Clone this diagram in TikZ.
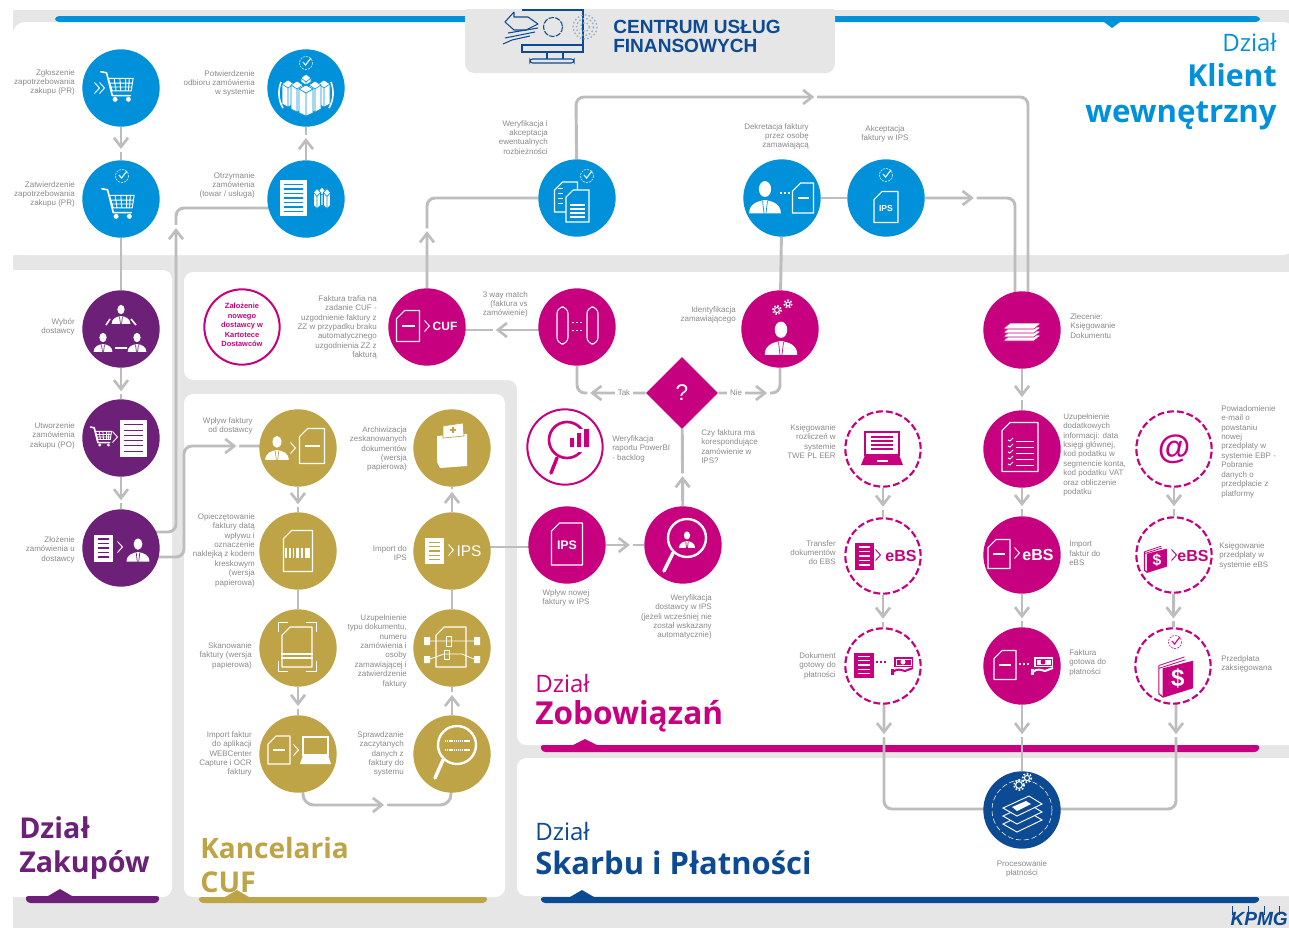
\documentclass[tikz,border=0pt]{standalone}
\usepackage{fontspec}
\setmainfont{Liberation Sans}
\newfontfamily\headfont{Open Sans}
\usetikzlibrary{shapes.geometric,decorations.markings,calc}
\definecolor{cblue}{HTML}{0091DA}
\definecolor{cpurple}{HTML}{6D2077}
\definecolor{cmag}{HTML}{C6007E}
\definecolor{cgold}{HTML}{BEA447}
\definecolor{cnavy}{HTML}{0C4A94}
\definecolor{cline}{HTML}{BDBDBD}
\definecolor{cband}{HTML}{E6E6E6}
\definecolor{ctxt}{HTML}{8A8A8A}
\pgfdeclarelayer{under}
\pgfsetlayers{under,main}
\newcommand\chevmark{\fill[white] (0,-2.6) rectangle (5,2.6); \draw[cline,line width=2pt,rounded corners=0pt] (-9,-7) -- (0,0) -- (-9,7);}
\tikzset{
 x=.75pt,y=-.75pt,
 circ/.style={circle,inner sep=0pt,minimum size=58pt},
 solidc/.style={circ,fill=#1},
 ringc/.style={circ,fill=white,draw=cmag,line width=1.5pt,minimum size=56.5pt},
 dashc/.style={circ,fill=white,draw=cmag,line width=1.6pt,dash pattern=on 5.2pt off 2.2pt,minimum size=56.5pt},
 conn/.style={draw=cline,line width=2.2pt},
 flow/.style={postaction={decorate,decoration={markings,mark=at position #1 with {\chevmark}}}},
 lab/.style={font=\fontsize{6}{7.1}\selectfont,text=ctxt,inner sep=0pt},
 labR/.style={lab,anchor=north east,align=right},
 labL/.style={lab,anchor=north west,align=left},
 labC/.style={lab,anchor=north,align=center},
 bigb/.style={font=\headfont\bfseries\fontsize{#1}{#1}\selectfont,inner sep=0pt},
 bigr/.style={font=\headfont\fontsize{#1}{#1}\selectfont,inner sep=0pt},
 itext/.style={font=\bfseries\fontsize{#1}{#1}\selectfont,inner sep=0pt},
}
% --- icon helpers (positions in px, centre first) ---
\newcommand\icdocO[4]{\begin{scope}[shift={(#1)}]
 \draw[#4,line width=.8pt,line join=round] ({-#2/2},{-#3/2+8}) -- ({-#2/2+8},{-#3/2}) -- ({#2/2},{-#3/2}) -- ({#2/2},{#3/2}) -- ({-#2/2},{#3/2}) -- cycle;
\end{scope}}
\newcommand\icdocM[4]{\icdocO{#1}{#2}{#3}{#4}\begin{scope}[shift={(#1)}]\draw[#4,line width=.8pt] ({-#2/2+5},0) -- ({#2/2-5},0);\end{scope}}
\newcommand\icdocF[6]{\begin{scope}[shift={(#1)}]
 \fill[#4] ({-#2/2},{-#3/2}) rectangle ({#2/2},{#3/2});
 \foreach \i in {1,...,#6}{\draw[#5,line width=.8pt] ({-#2/2+4},{-#3/2+#3*\i/(#6+1)}) -- ({#2/2-4},{-#3/2+#3*\i/(#6+1)});}
\end{scope}}
\newcommand\icchev[2]{\begin{scope}[shift={(#1)}]\draw[#2,line width=.7pt] (-2.5,-5.5) -- (2.5,0) -- (-2.5,5.5);\end{scope}}
\newcommand\icbadge[2]{\begin{scope}[shift={(#1)}]
 \draw[#2,line width=.4pt,dash pattern=on 1.5pt off .8pt] (0,0) circle (6.5);
 \draw[#2,line width=.8pt] (-3,-1) -- (-.5,2) -- (5,-5);
\end{scope}}
\newcommand\icperson[4]{\begin{scope}[shift={(#1)},scale=#2]
 \fill[#3] (0,-9) ellipse [x radius=5,y radius=6.5];
 \fill[#3] (-13,11) .. controls (-13,3) and (-6,1) .. (0,0) .. controls (6,1) and (13,3) .. (13,11) -- cycle;
 \draw[#4,line width=.5pt] (-2,1) -- (-.8,11) (2,1) -- (.8,11);
\end{scope}}
\newcommand\iccart[3]{\begin{scope}[shift={(#1)},scale=#2]
 \draw[#3,line width=1.2pt,line join=round,line cap=round] (-17,-16) -- (-11,-15) -- (-5,9) -- (14,9);
 \draw[#3,line width=.7pt] (-9,-9) -- (17,-9) -- (15,4) -- (-5,4) -- cycle
   (-3,-9) -- (-1,4) (3,-9) -- (4,4) (9,-9) -- (9,4) (13,-9) -- (12,4) (-8,-4) -- (16,-4) (-6,0) -- (15.5,0);
 \fill[#3] (-2,13) circle (2.6) (12,13) circle (2.6);
\end{scope}}
\newcommand\icbox[5]{\begin{scope}[shift={(#1)}]
 \fill[#4,draw=#5,line width=.5pt] ({-#2/2},{-#3/2}) -- (0,{-#3/2-4}) -- ({#2/2},{-#3/2}) -- ({#2/2},{#3/2}) -- (0,{#3/2+3}) -- ({-#2/2},{#3/2}) -- cycle;
 \draw[#5,line width=.5pt] ({-#2/2},{-#3/2}) -- (0,{-#3/2+4}) -- ({#2/2},{-#3/2}) (0,{-#3/2+4}) -- (0,{#3/2+3});
\end{scope}}
\newcommand\icgear[3]{\begin{scope}[shift={(#1)}]
 \draw[#3,line width=.8pt] (0,0) circle (#2);
 \draw[#3,line width=1.2pt,dash pattern=on 1.2pt off 1.3pt] (0,0) circle ({#2+1.8});
\end{scope}}
\newcommand\icpay[3]{\begin{scope}[shift={(#1)}]
 \fill[#2] (-9,-9) rectangle (10,1);
 \fill[#3] (0,-4) circle (2.5);
 \draw[#3,line width=.4pt] (-7,-7) rectangle (8,-1);
 \draw[#2,line width=1.5pt,line join=round] (-10,6) .. controls (-6,2) and (-2,4) .. (2,5) -- (10,2);
 \fill[#2] (-12,3) rectangle (-9,9);
\end{scope}}
\newcommand\icwallet[4]{\begin{scope}[shift={(#1)},scale=#2]
 \draw[#3,line width=.6pt] (-17,-10) -- (10,-19) (-17,-7) -- (11,-16);
 \draw[#3,line width=.9pt] (-17,-10) -- (-17,20) -- (-13,23);
 \fill[#3] (-13,-7) -- (19,-15) -- (19,14) -- (-13,24) -- cycle;
 \node[transform shape,text=#4,font=\bfseries\fontsize{19}{19}\selectfont,inner sep=0pt] at (3,4) {\$};
\end{scope}}
\newcommand\icdots[2]{\begin{scope}[shift={(#1)}]\draw[#2,line width=.8pt,dash pattern=on 1.5pt off 1.5pt] (-6,0) -- (6,0);\end{scope}}
\newcommand\iclaptop[2]{\begin{scope}[shift={(#1)}]
 \draw[#2,line width=.8pt] (-17,-13) rectangle (17,10);
 \fill[#2] (-17,10) -- (17,10) -- (21,20) -- (-21,20) -- cycle;
\end{scope}}
\begin{document}
\begin{tikzpicture}
\useasboundingbox (0,0) rectangle (1289,928);
\begin{pgfonlayer}{under}
 \fill[white] (0,0) rectangle (1289,928);
 \fill[cband] (13,10) rectangle (1289,928);
 % panels
 \fill[white,rounded corners=9pt] (13,22) -- (1295,22) -- (1295,255) -- (13,255) -- cycle;
 \fill[white] (13,30) rectangle (30,255);
 \fill[white,rounded corners=7pt] (5,270) -- (172,270) -- (172,897) -- (5,897) -- cycle;
 \fill[white] (13,270) rectangle (30,897);
 \fill[cband] (0,260) rectangle (13,928);
 \fill[white] (0,0) rectangle (13,928);
 \fill[white,rounded corners=7pt] (184,272) -- (1300,272) -- (1300,745) -- (517,745) -- (517,380) -- (184,380) -- cycle;
 \fill[white,rounded corners=7pt] (184,394) -- (505,394) -- (505,897) -- (184,897) -- cycle;
 \fill[white,rounded corners=7pt] (517,758) -- (1300,758) -- (1300,896) -- (517,896) -- cycle;
 % coloured bars
 \fill[cblue,rounded corners=3pt] (55,22) -- (55,16) -- (1260,16) -- (1260,22) -- cycle;
 \fill[cblue] (1104,22) -- (1120,22) -- (1112,28) -- cycle;
 \fill[cpurple,rounded corners=2.5pt] (25,896) -- (160,896) -- (158,903) -- (27,903) -- cycle;
 \fill[cpurple] (48,896) -- (72,896) -- (60,889) -- cycle;
 \fill[cgold,rounded corners=2.5pt] (198,897) -- (488,897) -- (486,903) -- (200,903) -- cycle;
 \fill[cgold] (225,897) -- (249,897) -- (237,890) -- cycle;
 \fill[cmag,rounded corners=2.5pt] (540,745) -- (1260,745) -- (1258,752) -- (542,752) -- cycle;
 \fill[cmag] (573,745) -- (597,745) -- (585,739) -- cycle;
 \fill[cnavy,rounded corners=2.5pt] (540,897) -- (1260,897) -- (1258,903) -- (542,903) -- cycle;
 \fill[cnavy] (570,897) -- (594,897) -- (582,890) -- cycle;
 % title box
 \fill[white] (465,0) rectangle (835,10);
 \fill[cband,rounded corners=7pt] (465,4) -- (835,4) -- (835,73) -- (465,73) -- cycle;
 \fill[white] (465,0) rectangle (835,9);
\end{pgfonlayer}

% process nodes
\node[solidc=cblue] (b1) at (121,88) {};
\node[solidc=cblue] (b2) at (306,88) {};
\node[solidc=cblue] (b3) at (121,199) {};
\node[solidc=cblue] (b4) at (306,199) {};
\node[solidc=cblue] (b5) at (577,198) {};
\node[solidc=cblue] (b6) at (782,198) {};
\node[solidc=cblue] (b7) at (886,198) {};
\node[solidc=cpurple] (p1) at (121,329) {};
\node[solidc=cpurple] (p2) at (121,438) {};
\node[solidc=cpurple] (p3) at (121,548) {};
\node[ringc] (r1) at (242,327) {};
\node[solidc=cmag] (m1) at (427,327) {};
\node[solidc=cmag] (m2) at (577,327) {};
\node[solidc=cmag] (m3) at (780,329) {};
\node[solidc=cmag] (m4) at (1022,330) {};
\node[solidc=cmag] (m5) at (1022,449) {};
\node[solidc=cmag] (m6) at (1022,555) {};
\node[solidc=cmag] (m7) at (1022,666) {};
\node[solidc=cmag] (m8) at (567,545) {};
\node[solidc=cmag] (m9) at (683,545) {};
\node[ringc] (r2) at (565,447) {};
\node[dashc] (d1) at (883,449) {};
\node[dashc] (d2) at (883,556) {};
\node[dashc] (d3) at (883,666) {};
\node[dashc] (d4) at (1174,449) {};
\node[dashc] (d5) at (1174,555) {};
\node[dashc] (d6) at (1173,666) {};
\node[solidc=cgold] (g1) at (298,448) {};
\node[solidc=cgold] (g2) at (298,551) {};
\node[solidc=cgold] (g3) at (298,648) {};
\node[solidc=cgold] (g4) at (298,754) {};
\node[solidc=cgold] (g5) at (452,448) {};
\node[solidc=cgold] (g6) at (452,551) {};
\node[solidc=cgold] (g7) at (452,648) {};
\node[solidc=cgold] (g8) at (452,754) {};
\node[solidc=cnavy] (n1) at (1022,810) {};
\node[diamond,aspect=1,fill=cmag,inner sep=0pt,minimum size=54pt,text=white,font=\fontsize{17}{17}\selectfont] (q) at (682,393) {?};

% waypoints
\coordinate (k1) at (176,532);
\coordinate (k2) at (176,208);
\coordinate (k3) at (184,557);
\coordinate (k4) at (184,446);
\coordinate (k5) at (576,97);
\coordinate (k6) at (1028,97);
\coordinate (k7) at (1015,198);
\coordinate (k8) at (303,805);
\coordinate (k9) at (451,805);
\coordinate (k10) at (884,809);
\coordinate (k11) at (1176,809);
\coordinate (k12) at (500,330);
\coordinate (k13) at (500,547);

\begin{pgfonlayer}{under}
 \draw[conn,flow=.6] (b1) -- (b3);
 \draw[conn] (b3) -- (p1);
 \draw[conn,flow=.68] (p1) -- (p2);
 \draw[conn,flow=.66] (p2) -- (p3);
 \draw[conn,flow=.6] (b4) -- (b2);
 \draw[conn,rounded corners=6pt,flow=265pt] (p3 |- k1) -- (k1) -- (k2) -- (k2 -| b4);
 \draw[conn,rounded corners=6pt,flow=163pt] (p3 |- k3) -- (k3) -- (k4) -- (k4 -| g1);
 \draw[conn,rounded corners=6pt,flow=41pt] (m1) |- (b5);
 \draw[conn,flow=.527] (m2 |- k12) -- (m1 |- k12);
 \draw[conn,rounded corners=6pt,flow=221pt] (b5) -- (k5) -- (k6) -- (k6 |- m4);
 \draw[conn] (b6) -- (b7);
 \draw[conn] (b6) -- (m3);
 \draw[conn,rounded corners=6pt,flow=35pt] (b7) -- (k7) -- (k7 |- m4);
 \draw[conn,flow=.63] (m4) -- (m5);
 \draw[conn,flow=.57] (m5) -- (m6);
 \draw[conn,flow=.67] (m6) -- (m7);
 \draw[conn,flow=.41] (m7) -- (n1);
 \draw[conn,rounded corners=6pt,flow=40pt] (q.west) -| (m2);
 \draw[conn,rounded corners=6pt,flow=35pt] (q.east) -| (m3);
 \draw[conn,flow=.36] (m9) -- (q);
 \draw[conn] (g6 |- k13) -- (m8 |- k13);
 \draw[conn,flow=.57] (m8) -- (m9);
 \draw[conn,flow=.6] (g1) -- (g2);
 \draw[conn] (g2) -- (g3);
 \draw[conn,flow=.6] (g3) -- (g4);
 \draw[conn,rounded corners=8pt,flow=94pt] (k8 |- g4) -- (k8) -- (k9) -- (k9 |- g8);
 \draw[conn,flow=.64] (g8) -- (g7);
 \draw[conn] (g7) -- (g6);
 \draw[conn,flow=.72] (g6) -- (g5);
 \draw[conn,flow=.57] (d1) -- (d2);
 \draw[conn,flow=.67] (d2) -- (d3);
 \draw[conn,rounded corners=6pt,flow=49.5pt] (k10 |- d3) -- (k10) -- (k10 -| n1);
 \draw[conn,flow=.57] (d4) -- (d5);
 \draw[conn,flow=.67] (d5) -- (d6);
 \draw[conn,rounded corners=6pt,flow=49.5pt] (k11 |- d6) -- (k11) -- (k11 -| n1);
\end{pgfonlayer}
\node[lab,fill=white,inner sep=2pt,font=\fontsize{6}{7}\selectfont] (tak) at (624,393) {Tak};
\node[lab,fill=white,inner sep=2pt,font=\fontsize{6}{7}\selectfont] (nie) at (736,393) {Nie};

% === icons: blue ===
\icchev{97,88}{white}\icchev{102,88}{white}
\iccart{117,87}{.95}{white}
\icbadge{306,63}{white}
\icbox{288,94}{12}{20}{white}{cblue}
\icbox{324,94}{12}{20}{white}{cblue}
\icbox{306,80}{10}{4}{white}{cblue}
\icbox{297,97}{12}{24}{white}{cblue}
\icbox{315,97}{12}{24}{white}{cblue}
\icbox{306,101}{14}{24}{white}{cblue}
\draw[white,line width=1.2pt] (283,108) .. controls (278,100) and (278,90) .. (281,82);
\draw[white,line width=1.2pt] (329,108) .. controls (334,100) and (334,90) .. (331,82);
\icbadge{122,176}{white}
\iccart{118,204}{.95}{white}
\icdocF{293,198}{27}{36}{white}{cblue}{7}
\icbox{322,197}{7}{12}{white}{cblue}
\icbox{317,199}{7}{13}{white}{cblue}
\icbox{327,199}{7}{13}{white}{cblue}
\icdocO{566,197}{23}{30}{white}
\foreach \y in {188,193,198,203}{\draw[white,line width=.7pt] (558,\y) -- (563,\y);}
\fill[cblue,draw=white,line width=.8pt] (566,197) -- (573,190) -- (589,190) -- (589,222) -- (566,222) -- cycle;
\foreach \y in {205,209,213,217}{\draw[white,line width=.8pt] (570,\y) -- (585,\y);}
\icbadge{587,176}{white}
\icperson{765,200}{1.22}{white}{cblue}
\icdots{786,193}{white}
\icdocM{803,198}{21}{30}{white}
\icdocO{886,207}{24}{31}{white}
\node[itext=6.5,text=white] (tips1) at (886,209) {IPS};
\icbadge{886,175}{white}
% purple
\icperson{121,316}{.72}{white}{cpurple}
\icperson{103,344}{.72}{white}{cpurple}
\icperson{137,344}{.72}{white}{cpurple}
\draw[white,line width=1.2pt] (106,325) -- (110,319) (131,319) -- (136,325) (115,348) -- (127,348);
\iccart{101,437}{.62}{white}
\icchev{115,437}{white}
\icdocF{133,438}{27}{37}{white}{cpurple}{6}
\icdocF{103,548}{19}{27}{white}{cpurple}{5}
\icchev{120,547}{white}
\icperson{138,552}{.88}{white}{cpurple}
% magenta
\icdocM{408,326}{23}{31}{white}
\icchev{427,326}{white}
\node[itext=9,text=white] (tcuf) at (445,326) {CUF};
\draw[white,line width=.8pt,rounded corners=5pt] (557,307) rectangle (568,344);
\draw[white,line width=.8pt,rounded corners=5pt] (587,307) rectangle (598,344);
\draw[white,line width=.7pt,dash pattern=on 1.5pt off 1.5pt] (572,322) -- (584,322) (572,330) -- (584,330);
\icgear{777,310}{2.5}{white}
\icgear{788,304}{2}{white}
\icperson{781,341}{1.25}{white}{cmag}
\foreach \d in {12,8,4,0}{\fill[white,draw=cmag,line width=.4pt] (1010,{323+\d}) -- (1041,{323+\d}) -- (1034,{329+\d}) -- (1003,{329+\d}) -- cycle;}
\icdocO{1020,447}{36}{49}{white}
\foreach \y in {441,447,453,459,465}{\draw[white,line width=.7pt] (1008,{\y-1}) -- (1010,\y) -- (1013,{\y-3}); \draw[white,line width=.7pt] (1016,\y) -- (1034,\y);}
\icdocM{999,554}{22}{29}{white}
\icchev{1017,553}{white}
\node[itext=12,text=white] (tebs1) at (1038,555) {eBS};
\icdocM{1005,665}{22}{29}{white}
\icdots{1025,664}{white}
\icpay{1043,666}{white}{cmag}
\icdocO{567,544}{31}{42}{white}
\node[itext=9.3,text=white] (tips2) at (567,545) {IPS};
\draw[white,line width=1.8pt] (687,538) circle (19);
\draw[white,line width=2.6pt,line cap=round] (673,553) -- (664,571);
\icperson{687,541}{.62}{white}{cmag}
% outline magnifier
\draw[cmag,line width=2pt] (567,440) circle (18);
\fill[white] (568,429) rectangle (592,452);
\fill[cmag] (570,438) rectangle (574,447) (577,433) rectangle (581,447) (584,429) rectangle (589,447);
\draw[cmag,line width=2.6pt,line cap=round] (557,458) -- (551,473);
% dashed icons
\iclaptop{882,445}{cmag}
\foreach \y in {437,441,445,449}{\draw[cmag,line width=1.1pt] (871,\y) -- (893,\y);}
\fill[white] (877,460) rectangle (888,462);
\icdocF{864,556}{19}{27}{cmag}{white}{5}
\icchev{878,555}{cmag}
\node[itext=12,text=cmag] (tebs2) at (901,556) {eBS};
\icdocF{864,665}{20}{25}{cmag}{white}{5}
\icdots{882,662}{cmag}
\icpay{903,666}{cmag}{white}
\node[font=\bfseries\fontsize{25}{25}\selectfont,text=cmag,inner sep=0pt] (tat) at (1174,449) {@};
\icwallet{1155,558}{.62}{cmag}{white}
\icchev{1174,555}{cmag}
\node[itext=12,text=cmag] (tebs3) at (1193,556) {eBS};
\icwallet{1175,675}{.95}{cmag}{white}
\icbadge{1175,642}{cmag}
% gold
\icperson{277,450}{.9}{white}{cgold}
\icchev{293,448}{white}
\icdocM{312,446}{25}{35}{white}
\icdocO{298,551}{29}{41}{white}
\fill[white] (285,548) rectangle (310,558);
\foreach \x in {288,292,295,300,304}{\draw[cgold,line width=.9pt] (\x,548) -- (\x,558);}
\icdocO{297,647}{30}{40}{white}
\draw[white,line width=.8pt] (281,654) -- (313,654) (281,658) -- (313,658);
\draw[white,line width=.6pt] (278,632) -- (278,622) -- (288,622) (306,622) -- (316,622) -- (316,632) (278,661) -- (278,671) -- (288,671) (306,671) -- (316,671) -- (316,661);
\icdocM{279,750}{22}{28}{white}
\icchev{296,750}{white}
\draw[white,line width=.8pt] (303,737) rectangle (328,755);
\fill[white] (303,755) -- (328,755) -- (331,764) -- (300,764) -- cycle;
\fill[white] (437,436) -- (467,434) -- (467,466) -- (440,468) -- (437,462) -- cycle;
\fill[white,draw=cgold,line width=.5pt] (443,426) -- (463,423) -- (464,436) -- (443,438) -- cycle;
\draw[cgold,line width=.9pt] (453,427) -- (453,433) (450,430) -- (456,430);
\icdocF{434,551}{19}{26}{white}{cgold}{5}
\icchev{451,550}{white}
\node[itext=11.6,text=white,font=\fontsize{11.6}{11.6}\selectfont] (tips3) at (469,551) {IPS};
\icdocO{451,647}{30}{40}{white}
\draw[white,line width=.6pt] (444,641) -- (462,641) (444,654) -- (462,654) (430,641) -- (444,641) (462,641) -- (474,641) (430,659) -- (444,654) (462,654) -- (474,659);
\draw[white,line width=.6pt] (446,636) rectangle (451,646) (444,650) rectangle (449,659);
\fill[white] (424,637) rectangle (430,645) (424,656) rectangle (430,663) (474,637) rectangle (480,645) (474,656) rectangle (480,663);
\draw[white,line width=1.8pt] (457,745) circle (19);
\draw[white,line width=2.6pt,line cap=round] (443,760) -- (435,778);
\draw[white,line width=1.2pt,dash pattern=on 1pt off .6pt] (445,741) -- (470,741) (445,750) -- (470,750);
% navy
\icgear{1019,785}{3.4}{white}
\icgear{1027,778}{2.6}{white}
\draw[white,line width=.4pt,dash pattern=on 4pt off 2pt] (1022,810) circle (30);
\foreach \d in {16,8,0}{\fill[cnavy,draw=white,line width=.7pt] (1003,{808+\d}) -- (1029,{796+\d}) -- (1042,{804+\d}) -- (1017,{816+\d}) -- cycle;}
\fill[white] (1012,807) -- (1026,801) -- (1031,804) -- (1017,811) -- cycle;
% title art
\begin{scope}[cnavy,line width=.8pt]
 \draw (522,10) -- (583,10) -- (583,45);
 \draw (522,45) rectangle (583,52);
 \draw (547,52) -- (547,59) (563,52) -- (563,59);
 \draw[rounded corners=2pt] (530,59) rectangle (574,63);
 \draw[line join=round] (505,22) -- (514,12) -- (514,17) -- (528,17) -- (538,24) -- (526,30) -- (514,30) -- cycle;
 \draw (508,33) -- (538,28) (505,38) -- (535,32) (503,44) -- (512,40) -- (530,36);
 \draw[dash pattern=on 4pt off 1pt] (553,27) circle (9.5);
 \draw[cnavy!45,line width=1pt,dash pattern=on 1.2pt off 1.6pt] (585,27) circle (12) (585,27) circle (8.5) (585,27) circle (4.5);
\end{scope}
\node[font=\bfseries\fontsize{14.3}{14.6}\selectfont,text=cnavy,align=left,inner sep=0pt,anchor=west] (title) at (613,36.5) {CENTRUM USŁUG\\FINANSOWYCH};

% KPMG
\draw[cnavy,line width=.4pt] (1232,906) -- (1232,915) (1248,906) -- (1248,915) (1264,906) -- (1264,915) (1279,906) -- (1279,915);
\node[anchor=base east,font=\bfseries\itshape\fontsize{14.3}{14.3}\selectfont,text=cnavy,inner sep=0pt] (kpmg) at (1288,925) {KPMG};

% headings
\node[bigr=18,anchor=base east,text=cblue] (hk1) at (1277,51) {Dział};
\node[bigb=22.7,anchor=base east,text=cblue] (hk2) at (1277,86) {Klient};
\node[bigb=23.4,anchor=base east,text=cblue] (hk3) at (1277,122) {wewnętrzny};
\node[bigr=18,anchor=base west,text=cmag] (hz1) at (535,692) {Dział};
\node[bigb=23.7,anchor=base west,text=cmag] (hz2) at (535,724) {Zobowiązań};
\node[bigr=18,anchor=base west,text=cnavy] (hs1) at (535,840) {Dział};
\node[bigb=23.2,anchor=base west,text=cnavy] (hs2) at (535,874) {Skarbu i Płatności};
\node[bigb=21.5,anchor=base west,text=cpurple] (hp1) at (19,838) {Dział};
\node[bigb=21.5,anchor=base west,text=cpurple] (hp2) at (19,872) {Zakupów};
\node[bigb=21,anchor=base west,text=cgold] (hc1) at (200,858) {Kancelaria};
\node[bigb=21.5,anchor=base west,text=cgold] (hc2) at (200,892) {CUF};

% labels
\node[labR] (t1) at (75,69) {Zgłoszenie\\zapotrzebowania\\zakupu (PR)};
\node[labR] (t2) at (75,181) {Zatwierdzenie\\zapotrzebowania\\zakupu (PR)};
\node[labR] (t3) at (255,70) {Potwierdzenie\\odbioru zamówienia\\w systemie};
\node[labR] (t4) at (255,172) {Otrzymanie\\zamówienia\\(towar / usługa)};
\node[labR] (t5) at (548,120) {Weryfikacja i\\akceptacja\\ewentualnych\\rozbieżności};
\node[labR] (t6) at (809,123) {Dekretacja faktury\\przez osobę\\zamawiającą};
\node[labC] (t7) at (885,125) {Akceptacja\\faktury w IPS};
\node[labR] (t8) at (75,318) {Wybór\\dostawcy};
\node[labR] (t9) at (75,422) {Utworzenie\\zamówienia\\zakupu (PO)};
\node[labR] (t10) at (75,536) {Złożenie\\zamówienia u\\dostawcy};
\node[labC,text=cmag,font=\bfseries\fontsize{5.6}{7.1}\selectfont] (t11) at (242,303) {Założenie\\nowego\\dostawcy w\\Kartotece\\Dostawców};
\node[labR] (t12) at (377,295) {Faktura trafia na\\zadanie CUF -\\uzgodnienie faktury z\\ZZ w przypadku braku\\automatycznego\\uzgodnienia ZZ z\\fakturą};
\node[labR] (t13) at (528,291) {3 way match\\(faktura vs\\zamówienie)};
\node[labR] (t14) at (736,306) {Identyfikacja\\zamawiającego};
\node[labR] (t15) at (253,417) {Wpływ faktury\\od dostawcy};
\node[labR] (t16) at (407,426) {Archiwizacja\\zeskanowanych\\dokumentów\\(wersja\\papierowa)};
\node[labR] (t17) at (255,513) {Opieczętowanie\\faktury datą\\wpływu i\\oznaczenie\\naklejką z kodem\\kreskowym\\(wersja\\papierowa)};
\node[labR] (t18) at (407,545) {Import do\\IPS};
\node[labR] (t19) at (252,642) {Skanowanie\\faktury (wersja\\papierowa)};
\node[labR] (t20) at (407,614) {Uzupełnienie\\typu dokumentu,\\numeru\\zamówienia i\\osoby\\zamawiającej i\\zatwierdzenie\\faktury};
\node[labR] (t21) at (252,731) {Import faktur\\do aplikacji\\WEBCenter\\Capture i OCR\\faktury};
\node[labR] (t22) at (404,731) {Sprawdzanie\\zaczytanych\\danych z\\faktury do\\systemu};
\node[labC] (t23) at (566,589) {Wpływ nowej\\faktury w IPS};
\node[labR] (t24) at (712,594) {Weryfikacja\\dostawcy w IPS\\(jeżeli wcześniej nie\\został wskazany\\automatycznie)};
\node[labL] (t25) at (612,435) {Weryfikacja\\raportu PowerBI\\- backlog};
\node[labL] (t26) at (701,429) {Czy faktura ma\\korespondujące\\zamówienie w\\IPS?};
\node[labR] (t27) at (836,424) {Księgowanie\\rozliczeń w\\systemie\\TWE PL EER};
\node[labR] (t28) at (836,540) {Transfer\\dokumentów\\do EBS};
\node[labR] (t29) at (836,652) {Dokument\\gotowy do\\płatności};
\node[labL] (t30) at (1070,313) {Zlecenie:\\Księgowanie\\Dokumentu};
\node[labL] (t31) at (1063,413) {Uzupełnienie\\dodatkowych\\informacji: data\\księgi głównej,\\kod podatku w\\segmencie konta,\\kod podatku VAT\\oraz obliczenie\\podatku};
\node[labL] (t32) at (1069,541) {Import\\faktur do\\eBS};
\node[labL] (t33) at (1069,649) {Faktura\\gotowa do\\płatności};
\node[labL] (t34) at (1221,405) {Powiadomienie\\e-mail o\\powstaniu\\nowej\\przedpłaty w\\systemie EBP -\\Pobranie\\danych o\\przedpłacie z\\platformy};
\node[labL] (t35) at (1219,542) {Księgowanie\\przedpłaty w\\systemie eBS};
\node[labL] (t36) at (1221,655) {Przedpłata\\zaksięgowana};
\node[labC] (t37) at (1022,860) {Procesowanie\\płatności};
\end{tikzpicture}
\end{document}
